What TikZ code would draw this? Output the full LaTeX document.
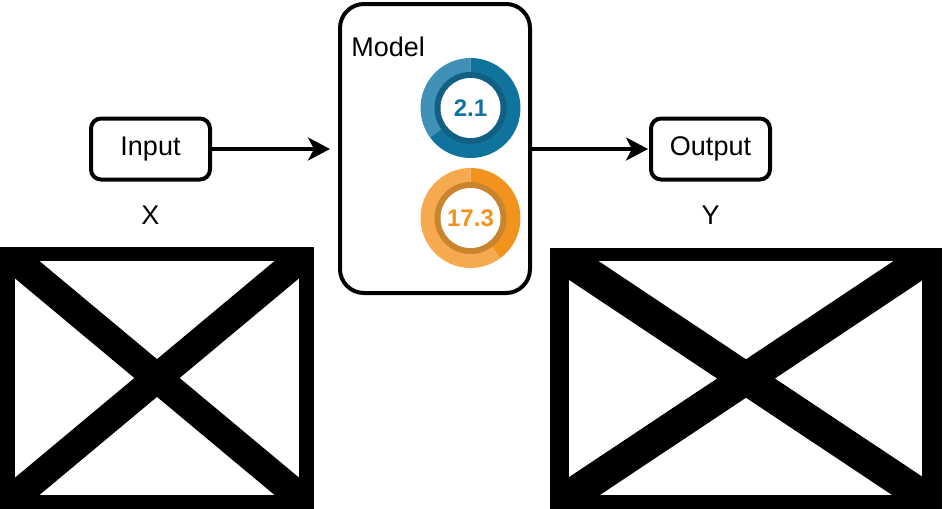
\documentclass[tikz,border=0pt]{standalone}
\usepackage{fontspec}
\setmainfont{Liberation Sans}
\usetikzlibrary{arrows.meta, positioning}
\usepackage{xcolor}
\definecolor{blueDark}{HTML}{10739E}
\definecolor{blueLight}{HTML}{4090B7}
\definecolor{blueRing}{HTML}{125F84}
\definecolor{orangeDark}{HTML}{F2931E}
\definecolor{orangeLight}{HTML}{F5AA4F}
\definecolor{orangeRing}{HTML}{C9852E}

\begin{document}
\begin{tikzpicture}[
  x=0.5pt, y=-0.5pt,
  box/.style={draw, line width=2pt, rounded corners=5pt, minimum width=59.5pt, minimum height=30.5pt, font=\fontsize{13.5}{16}\selectfont},
  lbl/.style={font=\fontsize{13.5}{16}\selectfont, inner sep=0pt},
  flow/.style={-{Stealth[length=11pt, width=11.5pt, inset=3pt]}, line width=1.8pt},
  num/.style={font=\fontsize{12}{14}\selectfont\bfseries, inner sep=0pt}
]
\useasboundingbox (0,0) rectangle (943,509);

% image placeholders
\fill (0,247) rectangle (314,509);
\fill[white] (15,261) rectangle (299,495);
\begin{scope}
  \clip (15,261) rectangle (299,495);
  \draw[line width=14.5pt] (0,247) -- (314,509) (0,509) -- (314,247);
\end{scope}

\fill (550,248) rectangle (942,509);
\fill[white] (569,261) rectangle (922,495);
\begin{scope}
  \clip (569,261) rectangle (922,495);
  \draw[line width=16pt] (550,248) -- (942,509) (550,509) -- (942,248);
\end{scope}

% boxes
\node[box] (inp) at (150.5,149) {Input};
\node[box] (out) at (710.5,149) {Output};
\node[draw, line width=2pt, rounded corners=12pt, minimum width=95pt, minimum height=144.5pt] (model) at (435,148.5) {};
\node[lbl, anchor=west] (mdl) at (351,47) {Model};

\node[lbl, below=12pt of inp] (xl) {X};
\node[lbl, below=12pt of out] (yl) {Y};

% donuts
\coordinate (d1) at (470.5,108);
\coordinate (d2) at (470.5,218);

\fill[blueLight] (d1) -- ++(90:25pt) arc[start angle=90, end angle=216, radius=25pt] -- cycle;
\fill[blueDark] (d1) -- ++(216:25pt) arc[start angle=216, end angle=450, radius=25pt] -- cycle;
\fill[blueRing] (d1) circle[radius=18pt];
\fill[white] (d1) circle[radius=15pt];
\node[num, text=blueDark] (v1) at (d1) {2.1};

\fill[orangeLight] (d2) -- ++(90:25pt) arc[start angle=90, end angle=307, radius=25pt] -- cycle;
\fill[orangeDark] (d2) -- ++(-53:25pt) arc[start angle=-53, end angle=90, radius=25pt] -- cycle;
\fill[orangeRing] (d2) circle[radius=18pt];
\fill[white] (d2) circle[radius=15pt];
\node[num, text=orangeDark] (v2) at (d2) {17.3};

% arrows
\draw[flow, shorten >=4pt] (inp.east) -- (inp.east -| model.west);
\draw[flow, shorten >=0.5pt] (model.east |- out.west) -- (out.west);
\end{tikzpicture}
\end{document}
